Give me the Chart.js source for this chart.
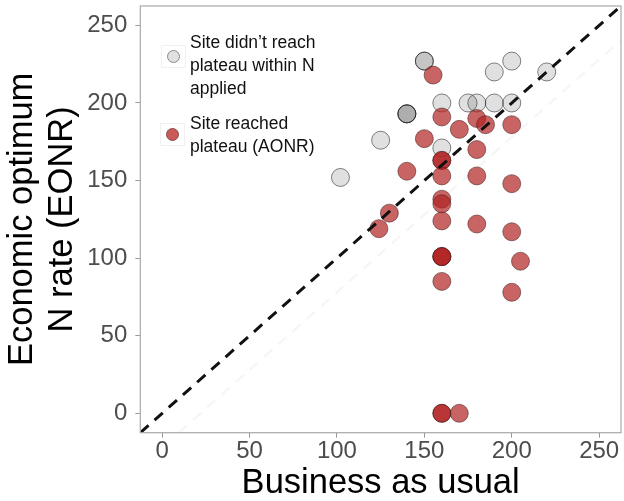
<!DOCTYPE html>
<html>
<head>
<meta charset="utf-8">
<script src="https://cdn.jsdelivr.net/npm/chart.js@4.4.1/dist/chart.umd.min.js"></script>
<style>
  html, body { margin: 0; padding: 0; background: #fff; }
  #wrap { position: relative; width: 624px; height: 501px; }
  #legend { position: absolute; left: 0; top: 0; font-family: "Liberation Sans", Arial, sans-serif;
            font-size: 17.5px; line-height: 23px; color: #111; }
  .key { position: absolute; width: 25px; height: 23px; border: 1px solid #f0f0f0; box-sizing: border-box; }
  .dot { position: absolute; left: 5px; top: 4px; width: 13px; height: 13px; border-radius: 50%; box-sizing: border-box; }
  .txt { position: absolute; left: 190px; white-space: nowrap; }
</style>
</head>
<body>
<div id="wrap">
  <canvas id="chart" width="624" height="501"></canvas>
  <div id="legend">
    <div class="key" style="left:161px; top:45px;"><div class="dot" style="background:#e0e0e0; border:1px solid #8a8a8a;"></div></div>
    <div class="txt" style="top:31px;">Site didn’t reach<br>plateau within N<br>applied</div>
    <div class="key" style="left:160px; top:123px;"><div class="dot" style="background:#c95a5a; border:1px solid #8a4a4a;"></div></div>
    <div class="txt" style="top:112px;">Site reached<br>plateau (AONR)</div>
  </div>
</div>
<script>
// ---- data ----
var notPlateauX = [102, 125, 140, 140, 140, 150, 150, 160, 160, 175, 180, 190, 190, 200, 200, 220];
var notPlateauY = [152, 176, 193, 193, 193, 227, 227, 200, 171, 200, 200, 220, 200, 227, 200, 220];

var plateauX = [155, 160, 180, 185, 200, 170, 150, 160, 160, 180, 140, 160, 180, 200, 160, 160,
                160, 180, 200, 130, 124, 160, 160, 160, 205, 160, 200, 160, 160, 170];
var plateauY = [218, 191, 190, 186, 186, 183, 177, 163, 163, 170, 156, 153, 153, 148, 138, 135,
                124, 122, 117, 129, 119, 101, 101, 101, 98, 85, 78, 0, 0, 0];

var tickValues = [0, 50, 100, 150, 200, 250];
var axisMin = -12.5;
var axisMax = 262.5;
var faintOffset = 22; // faint dashed line sits a little below the 1:1 line

function toPoints(xs, ys) {
  return xs.map(function (x, i) { return { x: x, y: ys[i] }; });
}

var FONT = '"Liberation Sans", Arial, sans-serif';

var framePlugin = {
  id: 'frame',
  afterDraw: function (chart) {
    var a = chart.chartArea, ctx = chart.ctx;
    ctx.save();
    ctx.strokeStyle = '#a8a8a8';
    ctx.lineWidth = 1.2;
    ctx.strokeRect(a.left, a.top, a.right - a.left, a.bottom - a.top);
    ctx.restore();
  }
};

new Chart(document.getElementById('chart').getContext('2d'), {
  type: 'scatter',
  data: {
    datasets: [
      {
        label: '1:1',
        data: [{ x: axisMin, y: axisMin }, { x: axisMax, y: axisMax }],
        showLine: true,
        borderColor: '#111',
        borderWidth: 3,
        borderDash: [11, 8],
        pointRadius: 0,
        order: 0
      },
      {
        label: 'faint',
        data: [{ x: axisMin + faintOffset, y: axisMin }, { x: axisMax, y: axisMax - faintOffset }],
        showLine: true,
        borderColor: 'rgba(0,0,0,0.035)',
        borderWidth: 2.5,
        borderDash: [11, 8],
        pointRadius: 0,
        order: 1
      },
      {
        label: 'Site reached plateau (AONR)',
        data: toPoints(plateauX, plateauY),
        backgroundColor: 'rgba(178,34,34,0.7)',
        borderColor: 'rgba(60,20,20,0.5)',
        borderWidth: 1,
        pointRadius: 9,
        order: 2
      },
      {
        label: 'Site didn’t reach plateau within N applied',
        data: toPoints(notPlateauX, notPlateauY),
        backgroundColor: 'rgba(0,0,0,0.12)',
        borderColor: 'rgba(30,30,30,0.55)',
        borderWidth: 1,
        pointRadius: 9,
        order: 3
      }
    ]
  },
  options: {
    responsive: false,
    animation: false,
    layout: { autoPadding: false, padding: { top: 6, right: 3, left: 0, bottom: 0 } },
    plugins: { legend: { display: false }, tooltip: { enabled: false } },
    scales: {
      x: {
        type: 'linear',
        min: axisMin,
        max: axisMax,
        afterBuildTicks: function (s) { s.ticks = tickValues.map(function (v) { return { value: v }; }); },
        afterFit: function (s) { s.height = 68.3; s.paddingLeft = 0; s.paddingRight = 0; },
        grid: { drawOnChartArea: false, drawTicks: true, tickLength: 5, tickColor: '#999' },
        border: { display: false },
        ticks: { color: '#4d4d4d', font: { size: 24, family: FONT }, padding: -1, maxRotation: 0, autoSkip: false },
        title: { display: true, text: 'Business as usual', color: '#000',
                 font: { size: 34.5, family: FONT, lineHeight: 1 }, padding: { top: 0, bottom: 0 } }
      },
      y: {
        type: 'linear',
        min: axisMin,
        max: axisMax,
        afterBuildTicks: function (s) { s.ticks = tickValues.map(function (v) { return { value: v }; }); },
        afterFit: function (s) { s.width = 140.3; s.paddingTop = 0; s.paddingBottom = 0; },
        grid: { drawOnChartArea: false, drawTicks: true, tickLength: 5, tickColor: '#999' },
        border: { display: false },
        ticks: { color: '#4d4d4d', font: { size: 24, family: FONT }, padding: 8, autoSkip: false },
        title: { display: true, text: ['Economic optimum', 'N rate (EONR)'], color: '#000',
                 font: { size: 34.5, family: FONT, lineHeight: 1.17 }, padding: { top: 2, bottom: 0 } }
      }
    }
  },
  plugins: [framePlugin]
});
</script>
</body>
</html>
